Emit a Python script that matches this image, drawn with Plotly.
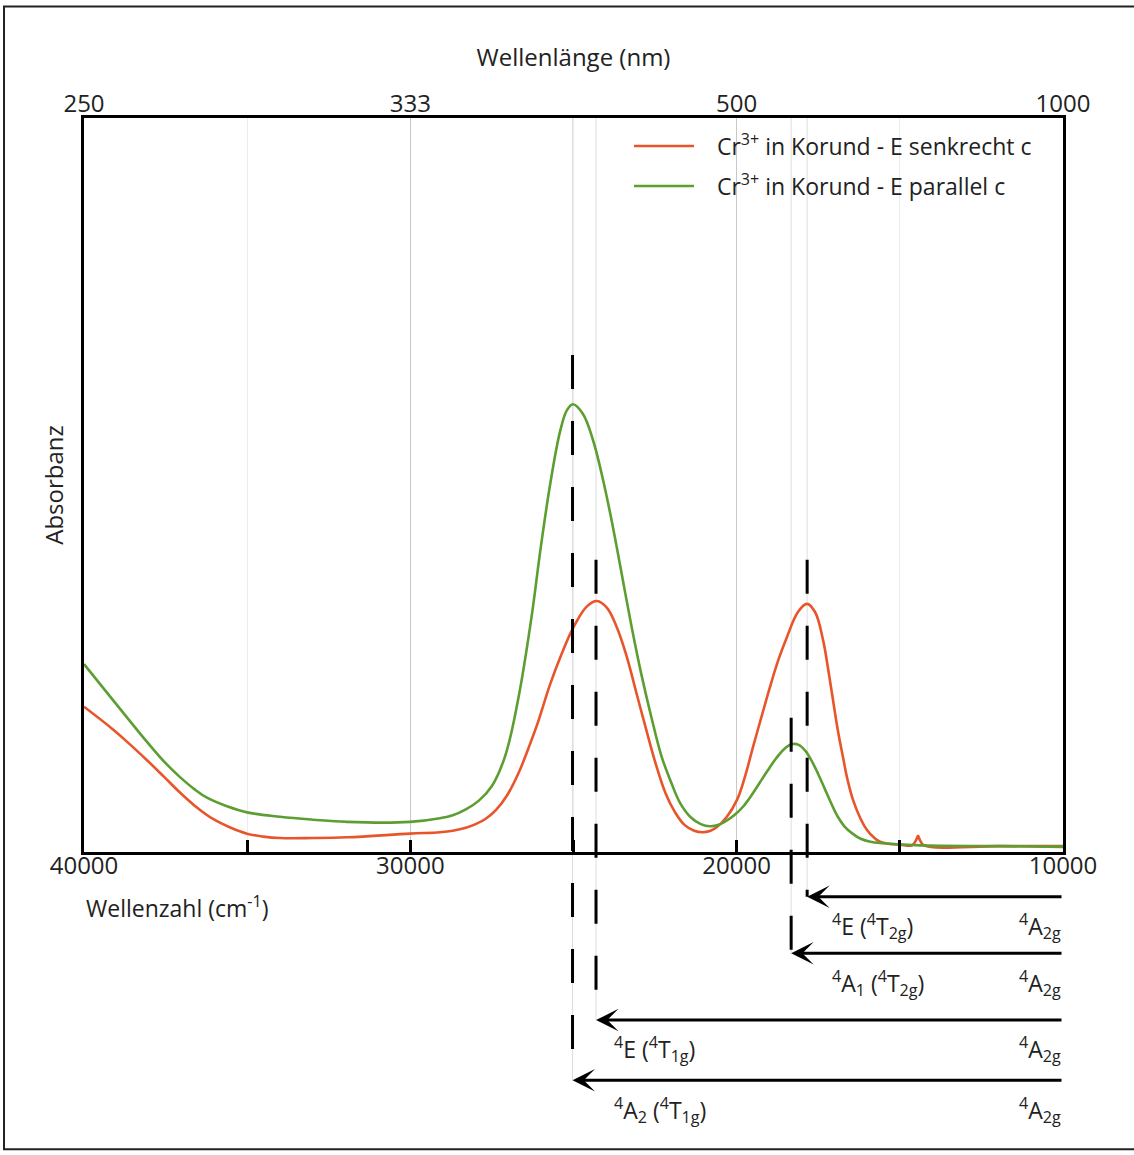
import plotly.graph_objects as go

# ---------------- data ----------------
wn_red = [40000, 39111, 38600, 38069, 37560, 37058, 36550, 36047, 35500, 35005,
          34500, 33994, 32983, 31941, 30010, 29091, 28700, 28300, 28000, 27700,
          27380, 27038, 26680, 26333, 26080, 25720, 25380, 24980, 24580, 24280,
          23980, 23680, 23380, 23080, 22780, 22480, 22180, 21900, 21600, 21300,
          21050, 20800, 20603, 20300, 19990, 19750, 19500, 19240, 18978, 18720,
          18458, 18121, 17844, 17599, 17354, 17200, 17048, 16900, 16741, 16600,
          16435, 16200, 16006, 15800, 15608, 15300, 14995, 14627, 14504, 14443,
          14382, 14259, 11931, 10000]
abs_red = [0.198, 0.167, 0.147, 0.125, 0.103, 0.081, 0.061, 0.045, 0.033, 0.025,
           0.021, 0.019, 0.019, 0.020, 0.025, 0.027, 0.029, 0.033, 0.038, 0.045,
           0.057, 0.077, 0.108, 0.147, 0.178, 0.228, 0.268, 0.308, 0.335, 0.342,
           0.333, 0.307, 0.268, 0.218, 0.168, 0.120, 0.080, 0.055, 0.037, 0.029,
           0.027, 0.029, 0.034, 0.048, 0.071, 0.102, 0.143, 0.184, 0.225, 0.262,
           0.293, 0.327, 0.338, 0.327, 0.289, 0.250, 0.207, 0.166, 0.129, 0.098,
           0.071, 0.045, 0.030, 0.020, 0.014, 0.011, 0.010, 0.009, 0.016, 0.022,
           0.016, 0.009, 0.008, 0.008]

wn_green = [40000, 39111, 38069, 37500, 37058, 36600, 36231, 35600, 35005, 33994,
            32983, 31941, 30010, 29091, 28700, 28300, 27900, 27500, 27100, 26700,
            26300, 26000, 25700, 25400, 25200, 25015, 24715, 24415, 24115, 23815,
            23515, 23215, 22915, 22615, 22300, 22000, 21736, 21400, 21100, 20817,
            20550, 20296, 20050, 19800, 19550, 19300, 19050, 18800, 18550, 18300,
            18100, 17900, 17700, 17500, 17300, 17100, 16900, 16700, 16450, 16200,
            15900, 15500, 14382, 11931, 10000]
abs_green = [0.256, 0.207, 0.150, 0.121, 0.102, 0.085, 0.074, 0.062, 0.054, 0.048,
             0.044, 0.041, 0.041, 0.046, 0.050, 0.058, 0.070, 0.090, 0.130, 0.207,
             0.316, 0.416, 0.505, 0.575, 0.602, 0.610, 0.597, 0.563, 0.511, 0.448,
             0.377, 0.306, 0.241, 0.184, 0.130, 0.094, 0.067, 0.047, 0.038, 0.035,
             0.037, 0.043, 0.051, 0.062, 0.077, 0.094, 0.111, 0.127, 0.140, 0.147,
             0.146, 0.138, 0.124, 0.106, 0.086, 0.066, 0.048, 0.035, 0.025, 0.018,
             0.014, 0.012, 0.009, 0.008, 0.007]

series_names = ["&nbsp;&nbsp;&nbsp;Cr<sup>3+</sup> in Korund - E senkrecht c",
                "&nbsp;&nbsp;&nbsp;Cr<sup>3+</sup> in Korund - E parallel c"]

# transitions (cm^-1), from the highest energy down
trans_wn = [25030, 24310, 18330, 17840]
trans_labels = ["<sup>4</sup>A<sub>2</sub> (<sup>4</sup>T<sub>1g</sub>)",
                "<sup>4</sup>E (<sup>4</sup>T<sub>1g</sub>)",
                "<sup>4</sup>A<sub>1</sub> (<sup>4</sup>T<sub>2g</sub>)",
                "<sup>4</sup>E (<sup>4</sup>T<sub>2g</sub>)"]
ground_label = "<sup>4</sup>A<sub>2g</sub>"

bottom_tickvals = [40000, 30000, 20000, 10000]
top_tickvals = [40000, 30000, 20000, 10000]
top_ticktext = ["250", "333", "500", "1000"]

# ---------------- layout geometry / style ----------------
FONT = "Open Sans"
RED = "#e8552b"
GREEN = "#5c9e31"
# geometry in paper units (0 = x-axis line, 1 = top of plot)
dash_top = [0.677, 0.398, 0.183, 0.398]
arrow_row = [-0.311, -0.229, -0.138, -0.061]
label_left_wn = [23820, 23820, 17140, 17140]
label_dy = -0.040

fig = go.Figure()
fig.add_trace(go.Scatter(x=wn_red, y=abs_red, mode="lines", name=series_names[0],
                         legendgroup="r",
                         line=dict(color=RED, width=2.6, shape="spline", smoothing=1.1)))
fig.add_trace(go.Scatter(x=wn_green, y=abs_green, mode="lines", name=series_names[1],
                         legendgroup="g",
                         line=dict(color=GREEN, width=2.6, shape="spline", smoothing=1.1)))
# invisible trace to carry the wavelength (top) axis
fig.add_trace(go.Scatter(x=[40000, 10000], y=[0, 0], xaxis="x2", mode="lines",
                         line=dict(color="rgba(0,0,0,0)"), showlegend=False,
                         hoverinfo="skip"))

shapes = []
# faint guide lines and dashed transition lines
for wn, top, row in zip(trans_wn, dash_top, arrow_row):
    shapes.append(dict(type="line", xref="x", yref="paper", x0=wn, x1=wn, y0=1, y1=row,
                       line=dict(color="#dedede", width=1), layer="below"))
    shapes.append(dict(type="line", xref="x", yref="paper", x0=wn, x1=wn, y0=top, y1=row,
                       line=dict(color="black", width=3, dash="34px,32px"), layer="above"))
# outer frame
shapes.append(dict(type="rect", xref="paper", yref="paper", x0=-0.0817, x1=1.0857,
                   y0=-0.405, y1=1.152, line=dict(color="#222", width=2)))

annotations = []
for wn, row, lab, lx in zip(trans_wn, arrow_row, trans_labels, label_left_wn):
    annotations.append(dict(x=wn, y=row, xref="x", yref="paper", ax=10000, axref="x",
                            ay=0, ayref="pixel", text="", showarrow=True, arrowhead=3,
                            arrowsize=1.25, arrowwidth=3, arrowcolor="black", standoff=0))
    annotations.append(dict(x=lx, y=row + label_dy, xref="x", yref="paper", text=lab,
                            showarrow=False, xanchor="left", yanchor="middle",
                            font=dict(family=FONT, size=23, color="#222")))
    annotations.append(dict(x=10000, y=row + label_dy, xref="x", yref="paper",
                            text=ground_label, showarrow=False, xanchor="right",
                            yanchor="middle", font=dict(family=FONT, size=23, color="#222")))
annotations.append(dict(x=0, y=-0.075, xref="paper", yref="paper",
                        text="Wellenzahl (cm<sup>-1</sup>)", showarrow=False,
                        xanchor="left", yanchor="middle",
                        font=dict(family=FONT, size=23, color="#222")))

fig.update_layout(
    width=1134, height=1155,
    margin=dict(l=84, r=71, t=118, b=303, autoexpand=False),
    paper_bgcolor="white", plot_bgcolor="white",
    font=dict(family=FONT, size=24, color="#222"),
    showlegend=True,
    legend=dict(x=0.5567, y=0.991, xanchor="left", yanchor="top",
                bgcolor="rgba(0,0,0,0)", font=dict(family=FONT, size=23, color="#222"),
                itemwidth=60, tracegroupgap=7),
    xaxis=dict(range=[40000, 10000], tickmode="array", tickvals=bottom_tickvals,
               tickformat="d", ticks="inside", ticklen=12, tickwidth=2.5,
               tickcolor="black", showline=True, linecolor="black", linewidth=3,
               mirror=True, showgrid=True, gridcolor="#c8c8c8", gridwidth=1,
               zeroline=False, ticklabelstandoff=-10,
               minor=dict(dtick=5000, tick0=0, ticks="inside", ticklen=12,
                          tickwidth=2.5, tickcolor="black", showgrid=True,
                          gridcolor="#ececec", gridwidth=1),
               tickfont=dict(size=24)),
    xaxis2=dict(range=[40000, 10000], overlaying="x", side="top", tickmode="array",
                tickvals=top_tickvals, ticktext=top_ticktext, ticks="", showgrid=False,
                showline=False, zeroline=False, tickfont=dict(size=24),
                title=dict(text="Wellenlänge (nm)", font=dict(size=24), standoff=12)),
    yaxis=dict(range=[0, 1], showticklabels=False, ticks="", showgrid=False,
               zeroline=False, showline=True, linecolor="black", linewidth=3,
               mirror=True,
               title=dict(text="Absorbanz", font=dict(size=24), standoff=11)),
    shapes=shapes, annotations=annotations,
)

fig.write_html("out.html")
